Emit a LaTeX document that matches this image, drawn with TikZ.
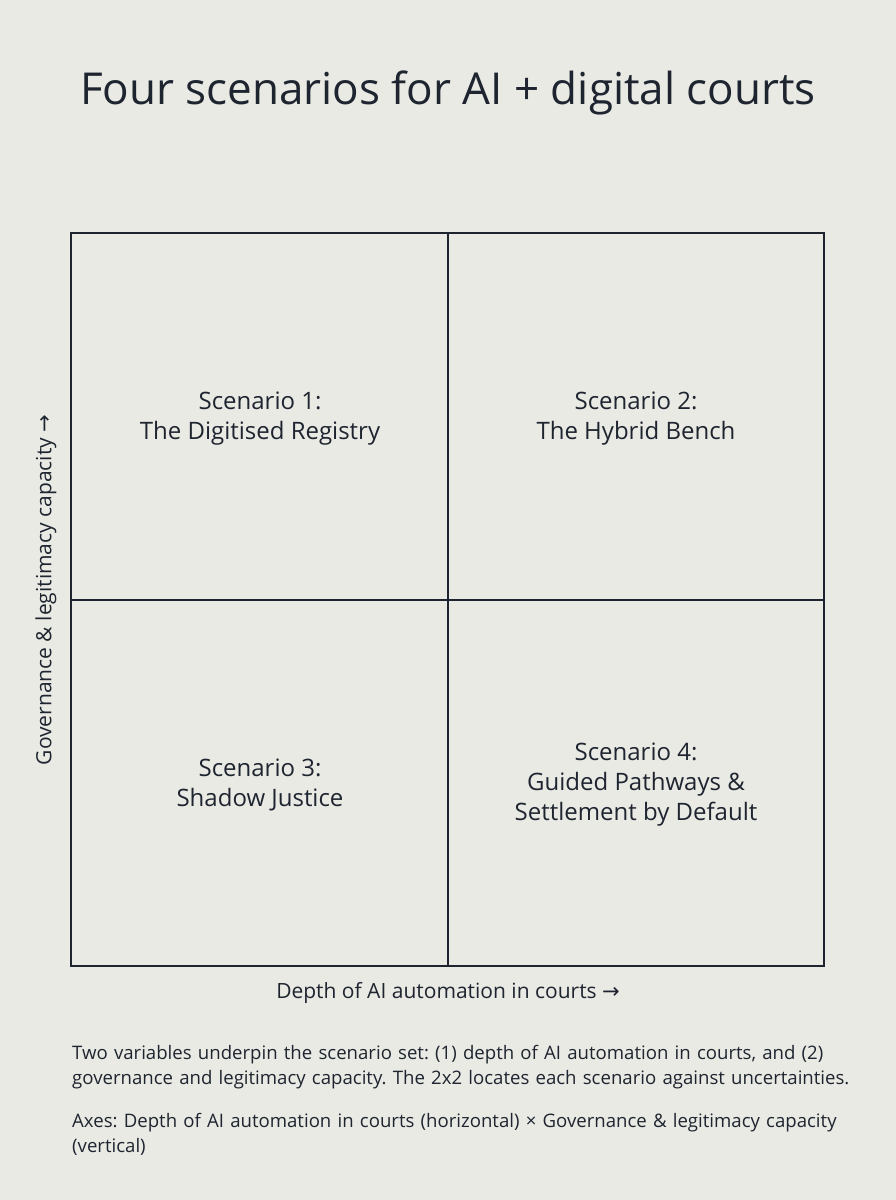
\documentclass[tikz,border=0pt]{standalone}
\usepackage{fontspec}
\setmainfont{Open Sans}
\newfontfamily\symf{DejaVu Sans}
\definecolor{bg}{HTML}{EAEAE4}
\definecolor{ink}{HTML}{1E2530}
\begin{document}
\frenchspacing
\begin{tikzpicture}[x=1pt,y=1pt,
  cell/.style={font=\fontsize{24}{30}\selectfont,text=ink,align=center},
  axis/.style={font=\fontsize{21}{25}\selectfont,text=ink},
  captext/.style={font=\fontsize{18.6}{25}\selectfont,text=ink,align=left,anchor=north west,text width=820pt,inner sep=0}]
\fill[bg] (0,0) rectangle (896,1200);
\useasboundingbox (0,0) rectangle (896,1200);
\node[font=\fontsize{44}{52}\selectfont,text=ink] (title) at (448,1107) {Four scenarios for AI + digital courts};
\draw[ink,line width=1.5pt] (71,234) rectangle (824,967);
\draw[ink,line width=1.5pt] (448,234) -- (448,967);
\draw[ink,line width=1.5pt] (71,600) -- (824,600);
\node[cell] (s1) at (260,781) {Scenario 1:\\The Digitised Registry};
\node[cell] (s2) at (636,781) {Scenario 2:\\The Hybrid Bench};
\node[cell] (s3) at (260,415) {Scenario 3:\\Shadow Justice};
\node[cell] (s4) at (636,415) {Scenario 4:\\Guided Pathways \&\\Settlement by Default};
\node[axis] (xa) at (448,207) {Depth of AI automation in courts {\symf →}};
\node[axis,rotate=90] (ya) at (46,610) {Governance \& legitimacy capacity {\symf →}};
\node[captext] (c1) at (72,155) {Two variables underpin the scenario set: (1) depth of AI automation in courts, and (2)\\governance and legitimacy capacity. The 2x2 locates each scenario against uncertainties.};
\node[captext] (c2) at (72,87) {Axes: Depth of AI automation in courts (horizontal) × Governance \& legitimacy capacity\\(vertical)};
\end{tikzpicture}
\end{document}
